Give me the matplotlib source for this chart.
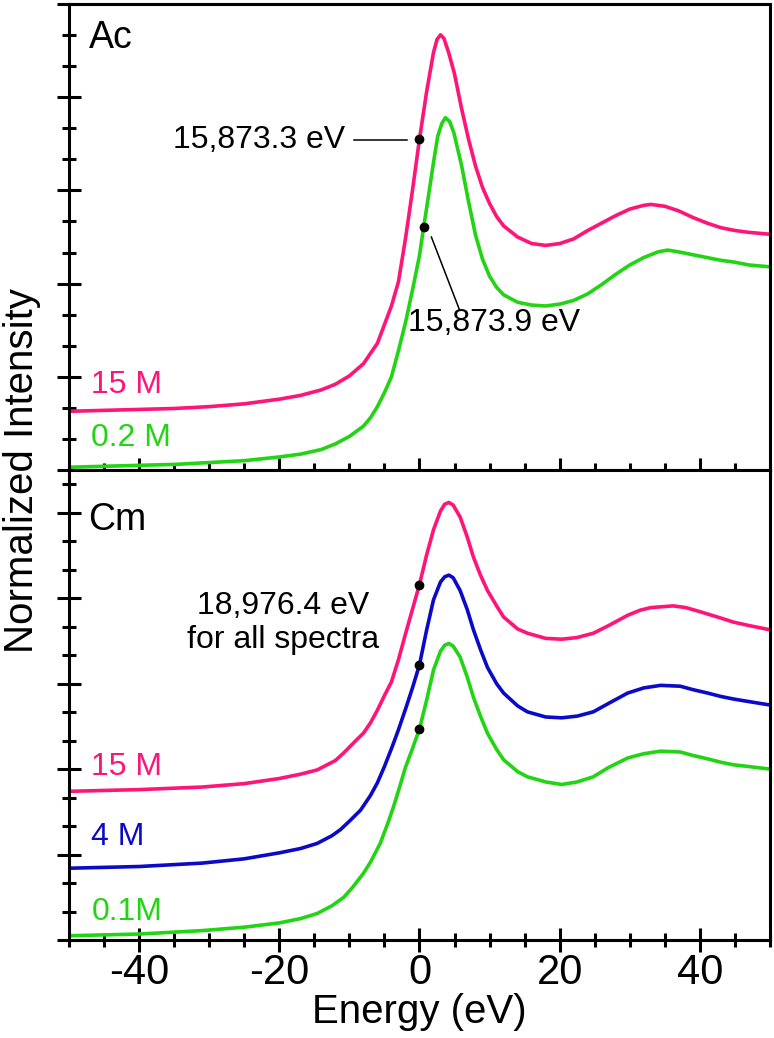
import numpy as np
import matplotlib
matplotlib.use('Agg')  # no display
import matplotlib.pyplot as plt
from matplotlib.ticker import MultipleLocator, NullFormatter

plt.rcParams['font.family'] = ['Liberation Sans', 'DejaVu Sans']
plt.rcParams['axes.unicode_minus'] = False

# ---------------------------
# Data (energy in eV, normalized intensity with offsets)
# ---------------------------

# Ac panel, 15 M
ac15_e = np.array([-50, -45, -40, -35, -30, -25, -20, -17, -14, -12, -10, -8, -6, -5, -4, -3,
                   -2, -1, 0, 1, 2, 2.5, 3, 3.5, 4.2, 5, 6, 7, 8, 9, 10, 11, 12, 14, 16, 18,
                   20, 22, 24, 26, 28, 30, 32, 33, 35, 37, 39, 41, 43, 45, 47, 50])
ac15_i = np.array([0.63, 0.64, 0.65, 0.66, 0.68, 0.71, 0.76, 0.80, 0.86, 0.92, 1.01, 1.14,
                   1.36, 1.56, 1.76, 2.02, 2.48, 3.00, 3.55, 4.05, 4.48, 4.62, 4.67, 4.63,
                   4.47, 4.25, 3.88, 3.55, 3.26, 3.03, 2.86, 2.72, 2.62, 2.50, 2.43, 2.41,
                   2.43, 2.48, 2.57, 2.65, 2.73, 2.80, 2.84, 2.85, 2.83, 2.78, 2.71, 2.65,
                   2.60, 2.57, 2.55, 2.53])

# Ac panel, 0.2 M
ac02_e = np.array([-50, -45, -40, -35, -30, -25, -20, -17, -14, -12, -10, -8, -7, -6, -5, -4,
                   -3, -2, -1, 0, 0.6, 1, 2, 2.6, 3.2, 3.7, 4.3, 4.9, 6, 7, 8, 9, 10, 11, 12,
                   14, 16, 18, 20, 22, 24, 26, 28, 30, 32, 34, 35.4, 37, 39, 41, 43, 45, 47,
                   50])
ac02_i = np.array([0.03, 0.04, 0.05, 0.06, 0.08, 0.10, 0.14, 0.17, 0.22, 0.28, 0.36, 0.47,
                   0.56, 0.68, 0.83, 1.00, 1.28, 1.58, 1.93, 2.30, 2.61, 2.80, 3.30, 3.58,
                   3.72, 3.78, 3.74, 3.62, 3.27, 2.88, 2.52, 2.26, 2.08, 1.96, 1.88, 1.80,
                   1.77, 1.76, 1.78, 1.82, 1.89, 1.99, 2.10, 2.20, 2.28, 2.34, 2.36, 2.34,
                   2.31, 2.28, 2.25, 2.23, 2.20, 2.18])

# Cm panel, 15 M
cm15_e = np.array([-50, -40, -31, -25, -20, -17, -14.6, -12, -10.8, -9, -8, -7, -6, -5, -4,
                   -3, -2, -1, 0, 1, 2, 3, 3.6, 4.2, 4.8, 5.8, 6.8, 7.7, 8.7, 9.7, 11, 12, 14,
                   15.4, 18, 20.3, 22.5, 24.8, 27, 29.7, 31.5, 33, 36.2, 38, 40.1, 42.5, 44.8,
                   47, 50])
cm15_i = np.array([1.74, 1.76, 1.79, 1.83, 1.89, 1.94, 1.99, 2.10, 2.19, 2.34, 2.42, 2.54,
                   2.69, 2.86, 3.02, 3.28, 3.58, 3.87, 4.16, 4.50, 4.80, 5.02, 5.10, 5.12,
                   5.09, 4.95, 4.72, 4.48, 4.27, 4.09, 3.91, 3.78, 3.64, 3.59, 3.53, 3.52,
                   3.54, 3.59, 3.68, 3.80, 3.86, 3.89, 3.91, 3.89, 3.84, 3.78, 3.72, 3.68,
                   3.63])

# Cm panel, 4 M
cm4_e = np.array([-50, -40, -31, -25, -20, -17, -14.6, -12.5, -11.3, -10, -8.4, -7, -6, -5,
                  -3.9, -3, -2, -1, 0, 1, 2, 3, 3.6, 4.2, 4.8, 5.8, 6.8, 7.7, 8.7, 9.7, 11,
                  12, 14, 15.4, 18, 20.3, 22.5, 24.8, 27, 29.7, 32, 34.4, 37.2, 39, 41.1, 43,
                  44.8, 47, 50])
cm4_i = np.array([0.84, 0.86, 0.90, 0.95, 1.02, 1.07, 1.13, 1.22, 1.29, 1.39, 1.52, 1.69,
                  1.84, 2.03, 2.26, 2.46, 2.70, 2.95, 3.22, 3.62, 3.98, 4.19, 4.25, 4.27,
                  4.24, 4.09, 3.87, 3.63, 3.40, 3.19, 3.00, 2.89, 2.74, 2.67, 2.61, 2.60,
                  2.62, 2.67, 2.77, 2.89, 2.95, 2.98, 2.97, 2.93, 2.89, 2.85, 2.82, 2.79,
                  2.75])

# Cm panel, 0.1 M
cm01_e = np.array([-50, -40, -31, -25, -20, -17, -14.6, -12.5, -10.8, -9.5, -8, -7, -5.6,
                   -4.5, -3.7, -2.8, -2, -1, 0, 1, 2, 3, 3.6, 4.2, 4.8, 5.8, 6.8, 7.7, 8.7,
                   9.7, 11, 12, 14, 15.4, 18, 20.3, 22.5, 24.8, 27, 29.7, 32, 34.4, 37.2, 39,
                   41.1, 43, 44.8, 47, 50])
cm01_i = np.array([0.05, 0.07, 0.11, 0.15, 0.20, 0.25, 0.31, 0.40, 0.50, 0.62, 0.78, 0.91,
                   1.13, 1.37, 1.56, 1.80, 2.02, 2.24, 2.47, 2.80, 3.16, 3.38, 3.45, 3.47,
                   3.44, 3.31, 3.08, 2.84, 2.62, 2.42, 2.23, 2.11, 1.97, 1.91, 1.85, 1.82,
                   1.85, 1.91, 2.02, 2.13, 2.18, 2.21, 2.20, 2.16, 2.12, 2.08, 2.05, 2.03,
                   2.00])

# edge-energy markers (energy, intensity)
ac_dots_e = [0.0, 0.6]
ac_dots_i = [3.55, 2.61]
cm_dots_e = [0.0, 0.0, 0.0]
cm_dots_i = [4.16, 3.22, 2.47]

PINK = '#FF1478'
GREEN = '#22D414'
BLUE = '#0A0AC8'

# ---------------------------
# Figure
# ---------------------------
fig = plt.figure(figsize=(7.74, 10.38), dpi=100)
ax_top = fig.add_axes([0.0891, 0.5472, 0.9057, 0.4489])
ax_bot = fig.add_axes([0.0891, 0.0944, 0.9057, 0.4528], sharex=ax_top)

LW = 2.6
ax_top.plot(ac15_e, ac15_i, color=PINK, lw=LW, solid_joinstyle='round')
ax_top.plot(ac02_e, ac02_i, color=GREEN, lw=LW, solid_joinstyle='round')
ax_top.plot(ac_dots_e, ac_dots_i, 'o', color='black', ms=6, zorder=5)

ax_bot.plot(cm15_e, cm15_i, color=PINK, lw=LW, solid_joinstyle='round')
ax_bot.plot(cm4_e, cm4_i, color=BLUE, lw=LW, solid_joinstyle='round')
ax_bot.plot(cm01_e, cm01_i, color=GREEN, lw=LW, solid_joinstyle='round')
ax_bot.plot(cm_dots_e, cm_dots_i, 'o', color='black', ms=6, zorder=5)

ax_top.set_xlim(-50, 50)
ax_top.set_ylim(0, 5)
ax_bot.set_ylim(0, 5.5)

for ax in (ax_top, ax_bot):
    for sp in ax.spines.values():
        sp.set_linewidth(2.2)
    ax.xaxis.set_major_locator(MultipleLocator(20))
    ax.xaxis.set_minor_locator(MultipleLocator(5))
    ax.yaxis.set_major_locator(MultipleLocator(1))
    ax.yaxis.set_minor_locator(MultipleLocator(1 / 3))
    ax.tick_params(which='major', direction='inout', length=17, width=2.2,
                   top=False, right=False, labelsize=30, pad=1)
    ax.tick_params(which='minor', direction='inout', length=10, width=2.2,
                   top=False, right=False)
    ax.yaxis.set_major_formatter(NullFormatter())

ax_top.tick_params(labelbottom=False)

# panel and series labels
ax_top.text(-47.2, 4.64, 'Ac', fontsize=27, va='center', ha='left')
ax_bot.text(-47.2, 4.92, 'Cm', fontsize=27, va='center', ha='left')

ax_top.text(-46.8, 0.91, '15 M', color=PINK, fontsize=23, va='center')
ax_top.text(-46.8, 0.34, '0.2 M', color=GREEN, fontsize=23, va='center')
ax_bot.text(-46.8, 2.02, '15 M', color=PINK, fontsize=23, va='center')
ax_bot.text(-46.8, 1.21, '4 M', color=BLUE, fontsize=23, va='center')
ax_bot.text(-46.8, 0.33, '0.1M', color=GREEN, fontsize=23, va='center')

# edge annotations
ax_top.text(-10.6, 3.54, '15,873.3 eV', fontsize=23, va='center', ha='right')
ax_top.plot([-9.4, -1.85], [3.54, 3.54], color='black', lw=1.1)
ax_top.plot([1.7, 5.7], [2.50, 1.72], color='black', lw=1.1)
ax_top.text(-1.6, 1.58, '15,873.9 eV', fontsize=23, va='center', ha='left')

ax_bot.text(-19.5, 3.71, '18,976.4 eV\nfor all spectra', fontsize=23,
            va='center', ha='center', linespacing=1.15)

ax_bot.set_xlabel('Energy (eV)', fontsize=29, labelpad=0)
fig.text(0.028, 0.547, 'Normalized Intensity', rotation=90, fontsize=29,
         va='center', ha='center')

fig.savefig('out.png', dpi=100)
plt.close(fig)
